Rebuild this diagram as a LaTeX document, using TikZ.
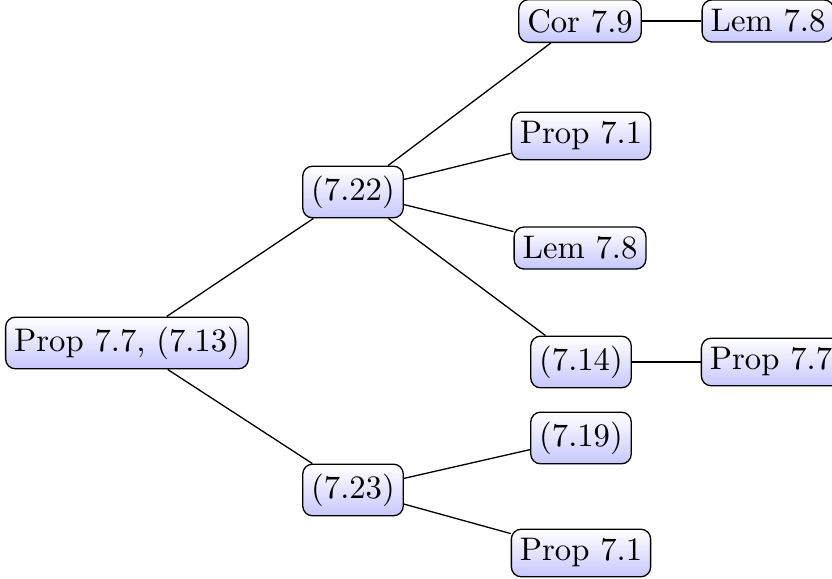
\documentclass[tikz,border=0pt]{standalone}
\begin{document}
\begin{tikzpicture}[x=0.306pt,y=-0.306pt,
  ref/.style={draw, rounded corners=3pt, top color=white, bottom color=blue!22,
    inner xsep=2.6pt, inner ysep=2.9pt},
  link/.style={draw, line width=0.4pt}]
\useasboundingbox (0,0) rectangle (832,579);
\clip (0,0) rectangle (832,579);
% nodes of the dependency tree
\node[ref] (root)  at (127,343) {Prop 7.7, (7.13)};
\node[ref] (e22)   at (353,192) {(7.22)};
\node[ref] (e23)   at (353,490) {(7.23)};
\node[ref] (cor)   at (580,21)  {Cor 7.9};
\node[ref] (lemA)  at (768,21)  {Lem 7.8};
\node[ref] (propA) at (581,136) {Prop 7.1};
\node[ref] (lemB)  at (580,248) {Lem 7.8};
\node[ref] (e14)   at (581,362) {(7.14)};
\node[ref] (prop7) at (771,362) {Prop 7.7};
\node[ref] (e19)   at (581,438) {(7.19)};
\node[ref] (propB) at (581,553) {Prop 7.1};
% connectors
\draw[link] (root) -- (e22);
\draw[link] (root) -- (e23);
\draw[link] (e22) -- (cor);
\draw[link] (e22) -- (propA);
\draw[link] (e22) -- (lemB);
\draw[link] (e22) -- (e14);
\draw[link] (cor) -- (lemA);
\draw[link] (e14) -- (prop7);
\draw[link] (e23) -- (e19);
\draw[link] (e23) -- (propB);
\end{tikzpicture}
\end{document}
